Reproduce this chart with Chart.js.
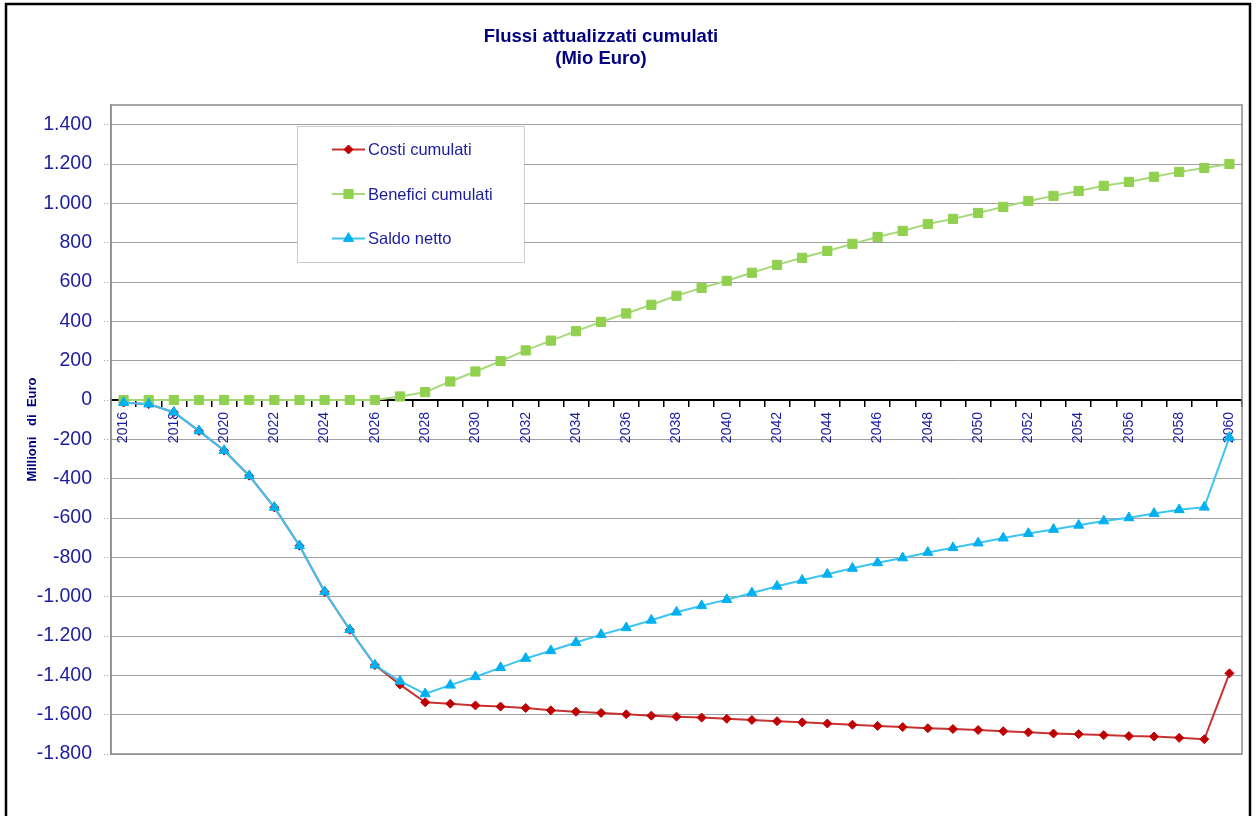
<!DOCTYPE html>
<html><head><meta charset="utf-8">
<script src="https://cdn.jsdelivr.net/npm/chart.js@4.4.1/dist/chart.umd.min.js"></script>
<style>html,body{margin:0;padding:0;background:#fff;}canvas{display:block;}</style>
</head><body>
<canvas id="c" width="1257" height="816"></canvas>
<script>
const years = [2016,2017,2018,2019,2020,2021,2022,2023,2024,2025,2026,2027,2028,2029,2030,2031,2032,2033,2034,2035,2036,2037,2038,2039,2040,2041,2042,2043,2044,2045,2046,2047,2048,2049,2050,2051,2052,2053,2054,2055,2056,2057,2058,2059,2060];
const costi = [-13,-21,-62,-157,-257,-385,-546,-741,-975,-1168,-1348,-1447,-1537,-1544,-1553,-1559,-1566,-1578,-1585,-1591,-1598,-1605,-1610,-1615,-1621,-1627,-1633,-1639,-1645,-1651,-1657,-1663,-1669,-1673,-1678,-1684,-1690,-1696,-1699,-1704,-1709,-1711,-1718,-1725,-1390];
const benefici = [0,0,0,0,0,0,0,0,0,0,0,18,40,94,145,198,252,302,350,397,440,484,530,570,606,647,687,723,758,794,829,860,895,921,951,982,1012,1038,1063,1089,1109,1135,1160,1180,1200];
const saldo = [-13,-21,-62,-157,-257,-385,-546,-741,-975,-1168,-1348,-1430,-1494,-1450,-1407,-1361,-1314,-1275,-1233,-1193,-1158,-1120,-1079,-1046,-1015,-981,-947,-917,-886,-856,-828,-803,-775,-751,-727,-702,-679,-658,-637,-615,-599,-577,-558,-545,-190];
const yTickValues = [-1800,-1600,-1400,-1200,-1000,-800,-600,-400,-200,0,200,400,600,800,1000,1200,1400];
const xLabelYears = [2016,2018,2020,2022,2024,2026,2028,2030,2032,2034,2036,2038,2040,2042,2044,2046,2048,2050,2052,2054,2056,2058,2060];
const seriesNames = ['Costi cumulati','Benefici cumulati','Saldo netto'];
const titleLines = ['Flussi attualizzati cumulati','(Mio Euro)'];
const yAxisTitle = 'Millioni   di  Euro';

const FONT = '"Liberation Sans", Arial, sans-serif';
const NAVY = '#000080';
const TEXT = '#1c1ca0';

function fmtIt(v){
  const s = Math.abs(v).toString().replace(/\B(?=(\d{3})+(?!\d))/g, '.');
  return (v < 0 ? '-' : '') + s;
}

const decor = {
  id: 'decor',
  beforeDraw(chart){
    const ctx = chart.ctx;
    ctx.save(); ctx.fillStyle = '#fff'; ctx.fillRect(0,0,chart.width,chart.height); ctx.restore();
  },
  beforeDatasetsDraw(chart){
    const {ctx, chartArea:a} = chart;
    ctx.save();
    ctx.strokeStyle = '#8c8c8c'; ctx.lineWidth = 1.5;
    ctx.strokeRect(a.left, a.top, a.right - a.left, a.bottom - a.top);
    ctx.restore();
  },
  afterDraw(chart){
    const ctx = chart.ctx;
    ctx.save();
    ctx.strokeStyle = '#000'; ctx.lineWidth = 2.5;
    ctx.strokeRect(6, 4, 1244, 900);
    ctx.fillStyle = NAVY; ctx.textAlign = 'center'; ctx.textBaseline = 'middle';
    ctx.font = 'bold 18.5px ' + FONT;
    ctx.fillText(titleLines[0], 601, 37);
    ctx.fillText(titleLines[1], 601, 59);
    const bx = 297, by = 126, bw = 227, bh = 136;
    ctx.fillStyle = '#fff'; ctx.fillRect(bx, by, bw, bh);
    ctx.strokeStyle = '#999'; ctx.lineWidth = 1; ctx.setLineDash([1,1]);
    ctx.strokeRect(bx + 0.5, by + 0.5, bw, bh);
    ctx.setLineDash([]);
    const ys = [149.5, 194, 238.5];
    chart.data.datasets.forEach((ds, i) => {
      const y = ys[i];
      ctx.strokeStyle = ds.borderColor; ctx.lineWidth = ds.borderWidth;
      ctx.beginPath(); ctx.moveTo(332, y); ctx.lineTo(365, y); ctx.stroke();
      ctx.fillStyle = ds.pointBackgroundColor; ctx.strokeStyle = ds.pointBorderColor; ctx.lineWidth = 1;
      Chart.helpers.drawPoint(ctx, {pointStyle: ds.pointStyle, radius: ds.pointRadius, rotation: 0, borderWidth: 1}, 348.5, y);
      ctx.fillStyle = TEXT; ctx.textAlign = 'left'; ctx.textBaseline = 'middle';
      ctx.font = '16.5px ' + FONT;
      ctx.fillText(ds.label, 368, y + 1);
    });
    ctx.restore();
  }
};

new Chart(document.getElementById('c'), {
  type: 'line',
  data: {
    labels: years,
    datasets: [
      { label: seriesNames[0], data: costi, borderColor: '#c83232', borderWidth: 2,
        pointStyle: 'rectRot', pointRadius: 4.5, pointBackgroundColor: '#c00000', pointBorderColor: '#c00000', pointBorderWidth: 1, order: 2 },
      { label: seriesNames[1], data: benefici, borderColor: '#a6d97a', borderWidth: 2,
        pointStyle: 'rect', pointRadius: 6.5, pointBackgroundColor: '#92d050', pointBorderColor: '#92d050', pointBorderWidth: 1, order: 1 },
      { label: seriesNames[2], data: saldo, borderColor: '#3cc4f2', borderWidth: 2,
        pointStyle: 'triangle', pointRadius: 5.8, pointBackgroundColor: '#00b0f0', pointBorderColor: '#00b0f0', pointBorderWidth: 1, order: 0 }
    ]
  },
  options: {
    responsive: false, animation: false, devicePixelRatio: 1,
    layout: { padding: { left: 0, top: 105, right: 15, bottom: 62 } },
    elements: { line: { tension: 0 } },
    plugins: { legend: { display: false }, title: { display: false }, tooltip: { enabled: false } },
    scales: {
      x: {
        type: 'category',
        position: { y: 0 },
        offset: true,
        grid: { offset: true, drawOnChartArea: false, drawTicks: true, tickLength: 6, color: '#000', lineWidth: 1.5 },
        border: { display: true, color: '#000', width: 2 },
        ticks: {
          autoSkip: false, minRotation: 90, maxRotation: 90, padding: 6,
          color: TEXT, font: { family: FONT, size: 14 },
          callback: function(v, i){ const yv = years[i]; return xLabelYears.includes(yv) ? String(yv) : ''; }
        }
      },
      y: {
        min: -1800, max: 1500,
        afterBuildTicks: s => { s.ticks = yTickValues.map(v => ({ value: v })); },
        afterFit: s => { s.width = 111; },
        grid: {
          color: ctx => (ctx.tick && ctx.tick.value === 0) ? 'rgba(0,0,0,0)' : '#a0a0a0',
          lineWidth: 1, borderDash: [1,2], tickBorderDash: [1,2], tickLength: 7, tickColor: '#a0a0a0'
        },
        border: { display: true, color: '#8c8c8c', width: 1.5 },
        ticks: { padding: 12, color: TEXT, font: { family: FONT, size: 19.5 }, callback: v => fmtIt(v) },
        title: { display: true, text: yAxisTitle, color: NAVY, font: { family: FONT, size: 13, weight: 'bold' }, padding: { top: 25, bottom: 0 } }
      }
    }
  },
  plugins: [decor]
});
</script>
</body></html>
